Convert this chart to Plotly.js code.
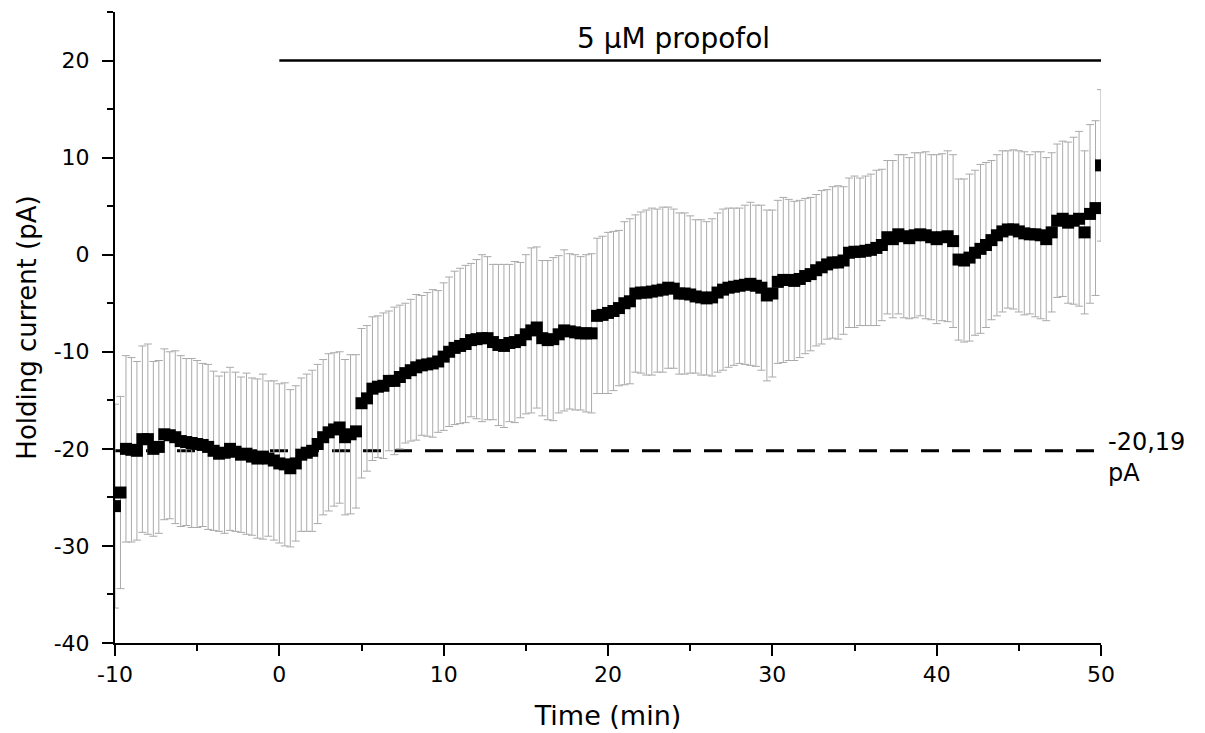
<!DOCTYPE html>
<html>
<head>
<meta charset="utf-8">
<script src="https://cdn.plot.ly/plotly-3.0.1.min.js"></script>
<style>html,body{margin:0;padding:0;background:#fff;}#chart{width:1205px;height:733px;}</style>
</head>
<body>
<div id="chart"></div>
<script>
// Sampling times (min), one sample every 20 s
const timeMin = [
 -10,-9.667,-9.333, -9,-8.667,-8.333, -8,-7.667,-7.333, -7,-6.667,-6.333,
 -6,-5.667,-5.333, -5,-4.667,-4.333, -4,-3.667,-3.333, -3,-2.667,-2.333,
 -2,-1.667,-1.333, -1,-0.667,-0.333, 0,0.333,0.667, 1,1.333,1.667,
 2,2.333,2.667, 3,3.333,3.667, 4,4.333,4.667, 5,5.333,5.667,
 6,6.333,6.667, 7,7.333,7.667, 8,8.333,8.667, 9,9.333,9.667,
 10,10.333,10.667, 11,11.333,11.667, 12,12.333,12.667, 13,13.333,13.667,
 14,14.333,14.667, 15,15.333,15.667, 16,16.333,16.667, 17,17.333,17.667,
 18,18.333,18.667, 19,19.333,19.667, 20,20.333,20.667, 21,21.333,21.667,
 22,22.333,22.667, 23,23.333,23.667, 24,24.333,24.667, 25,25.333,25.667,
 26,26.333,26.667, 27,27.333,27.667, 28,28.333,28.667, 29,29.333,29.667,
 30,30.333,30.667, 31,31.333,31.667, 32,32.333,32.667, 33,33.333,33.667,
 34,34.333,34.667, 35,35.333,35.667, 36,36.333,36.667, 37,37.333,37.667,
 38,38.333,38.667, 39,39.333,39.667, 40,40.333,40.667, 41,41.333,41.667,
 42,42.333,42.667, 43,43.333,43.667, 44,44.333,44.667, 45,45.333,45.667,
 46,46.333,46.667, 47,47.333,47.667, 48,48.333,48.667, 49,49.333,49.667,
 50
];

// Mean holding current (pA)
const holdingCurrent = [
 -25.9,-24.5,-20.0, -20.1,-20.2,-19.0, -19.0,-20.0,-19.8, -18.5,-18.6,-18.8,
 -19.2,-19.3,-19.4, -19.5,-19.6,-19.8, -20.2,-20.5,-20.4, -20.0,-20.3,-20.6,
 -20.5,-20.8,-21.0, -20.8,-21.0,-21.2, -21.5,-21.6,-22.0, -21.5,-20.6,-20.4,
 -20.2,-19.5,-18.8, -18.3,-18.0,-17.8, -18.8,-18.5,-18.2, -15.3,-14.8,-13.8,
 -13.6,-13.5,-13.0, -13.0,-12.6,-12.2, -11.9,-11.6,-11.4, -11.3,-11.2,-11.0,
 -10.5,-10.0,-9.6, -9.4,-9.2,-8.8, -8.7,-8.6,-8.6, -9.0,-9.3,-9.4,
 -9.1,-9.0,-8.8, -8.2,-7.8,-7.5, -8.6,-8.8,-8.7, -8.2,-7.8,-7.9,
 -8.0,-8.1,-8.1, -8.1,-6.3,-6.2, -6.0,-5.8,-5.5, -5.0,-4.8,-4.0,
 -3.9,-3.9,-3.8, -3.7,-3.6,-3.4, -3.5,-4.0,-4.0, -4.1,-4.3,-4.4,
 -4.5,-4.4,-3.9, -3.6,-3.4,-3.3, -3.2,-3.1,-3.0, -3.2,-3.4,-4.2,
 -4.0,-2.8,-2.6, -2.6,-2.7,-2.5, -2.2,-2.0,-1.6, -1.3,-1.0,-0.8,
 -0.8,-0.6,0.2, 0.3,0.3,0.4, 0.5,0.7,1.0, 1.8,1.6,2.1,
 1.9,1.7,2.0, 2.1,2.0,1.8, 1.6,1.8,1.9, 1.4,-0.5,-0.6,
 -0.3,0.2,0.6, 1.0,1.5,2.0, 2.4,2.6,2.6, 2.4,2.2,2.1,
 2.1,2.0,1.6, 2.3,3.5,3.7, 3.3,3.5,3.7, 2.3,4.2,4.8,
 9.2
];

// Error (pA)
const currentError = [
 10.5,9.9,9.6, 9.5,9.2,9.6, 9.8,9.0,8.9, 8.8,8.6,8.9,
 8.8,8.6,8.7, 8.6,8.4,8.5, 8.2,8.0,8.3, 8.4,8.2,8.0,
 8.3,8.1,8.2, 8.5,8.0,8.2, 8.2,8.4,8.1, 8.0,7.9,8.1,
 8.3,8.2,8.0, 8.1,7.9,7.8, 8.0,8.2,7.9, 7.7,7.5,7.4,
 7.3,7.5,7.2, 7.6,7.4,7.2, 7.3,7.5,7.2, 7.4,7.6,7.3,
 7.6,7.7,7.9, 8.0,8.1,7.9, 8.2,8.6,8.4, 8.0,8.3,8.4,
 8.1,8.3,8.0, 8.2,8.5,8.3, 8.0,8.2,8.4, 8.1,8.3,8.0,
 8.0,7.9,8.1, 8.2,8.0,8.1, 8.3,8.2,8.0, 8.4,8.5,8.1,
 8.3,8.5,8.6, 8.4,8.5,8.3, 8.2,8.3,8.3, 8.1,7.9,8.0,
 7.9,8.1,8.2, 8.3,8.2,8.1, 8.0,8.2,8.4, 8.3,8.5,8.8,
 8.6,8.4,8.5, 8.3,8.2,8.1, 8.0,7.9,7.8, 7.9,7.7,7.8,
 7.9,7.6,7.7, 7.8,7.6,7.7, 7.8,8.0,7.8, 7.9,8.1,8.2,
 8.4,8.3,8.5, 8.4,8.6,8.5, 8.7,8.6,8.8, 8.9,8.3,8.4,
 8.6,8.5,8.7, 8.5,8.2,8.3, 8.3,8.1,8.2, 8.3,8.4,8.2,
 8.5,8.6,8.4, 8.2,7.9,8.0, 8.3,8.6,9.0, 8.4,9.2,9.0,
 7.8
];

// Tick labels
const xTickVals = [-10, 0, 10, 20, 30, 40, 50];
const xTickText = ["-10", "0", "10", "20", "30", "40", "50"];
const yTickVals = [-40, -30, -20, -10, 0, 10, 20];
const yTickText = ["-40", "-30", "-20", "-10", "0", "10", "20"];

const baselineValue = -20.19;
const baselineLabel = "-20,19<br>pA";
const drugLabel = "5 µM propofol";
const drugLabelPos = 24;
const drugStart = 0, drugEnd = 50, drugLevel = 20;
const xRange = [-10, 50];
const yRange = [-40, 25];

const FONT = "'DejaVu Sans', 'Liberation Sans', Arial, sans-serif";

const traces = [
  {
    x: [xRange[0], xRange[1]],
    y: [baselineValue, baselineValue],
    mode: 'lines',
    line: {color: '#000', width: 3, dash: '18px,13px'},
    hoverinfo: 'skip',
    showlegend: false
  },
  {
    x: timeMin,
    y: holdingCurrent,
    mode: 'markers',
    type: 'scatter',
    marker: {symbol: 'square', size: 12, color: '#000'},
    error_y: {type: 'data', array: currentError, visible: true, color: '#aaaaaa', thickness: 1, width: 4},
    showlegend: false
  }
];

const layout = {
  width: 1205, height: 733,
  margin: {l: 115, r: 104, t: 12, b: 90},
  paper_bgcolor: '#fff', plot_bgcolor: '#fff',
  font: {family: FONT, color: '#000', size: 22},
  showlegend: false,
  xaxis: {
    range: xRange, tickmode: 'array', tickvals: xTickVals, ticktext: xTickText,
    showline: true, linecolor: '#000', linewidth: 2,
    ticks: 'outside', ticklen: 11, tickwidth: 2, tickcolor: '#000',
    minor: {ticks: 'outside', ticklen: 6, tickwidth: 2, dtick: 5, tick0: 0, tickcolor: '#000', showgrid: false},
    showgrid: false, zeroline: false,
    tickfont: {size: 22, family: FONT},
    title: {text: 'Time (min)', font: {size: 27, family: FONT}, standoff: 20},
    automargin: false
  },
  yaxis: {
    range: yRange, tickmode: 'array', tickvals: yTickVals, ticktext: yTickText,
    showline: true, linecolor: '#000', linewidth: 2,
    ticks: 'outside', ticklen: 11, tickwidth: 2, tickcolor: '#000',
    ticklabelstandoff: 8,
    minor: {ticks: 'outside', ticklen: 6, tickwidth: 2, dtick: 5, tick0: 0, tickcolor: '#000', showgrid: false},
    showgrid: false, zeroline: false,
    tickfont: {size: 22, family: FONT},
    title: {text: 'Holding current (pA)', font: {size: 26, family: FONT}, standoff: 10},
    automargin: false
  },
  shapes: [
    {type: 'line', xref: 'x', yref: 'y', x0: drugStart, x1: drugEnd, y0: drugLevel, y1: drugLevel,
     line: {color: '#000', width: 2.5}}
  ],
  annotations: [
    {xref: 'x', yref: 'y', x: drugLabelPos, y: drugLevel, text: drugLabel,
     showarrow: false, yanchor: 'middle', yshift: 22, font: {size: 28, family: FONT, color: '#000'}},
    {xref: 'paper', yref: 'y', x: 1, y: baselineValue, xanchor: 'left', yanchor: 'middle', xshift: 5, yshift: -7,
     align: 'left', text: baselineLabel, showarrow: false, font: {size: 24, family: FONT, color: '#000'}}
  ]
};

Plotly.newPlot('chart', traces, layout, {staticPlot: true, displayModeBar: false});
</script>
</body>
</html>
